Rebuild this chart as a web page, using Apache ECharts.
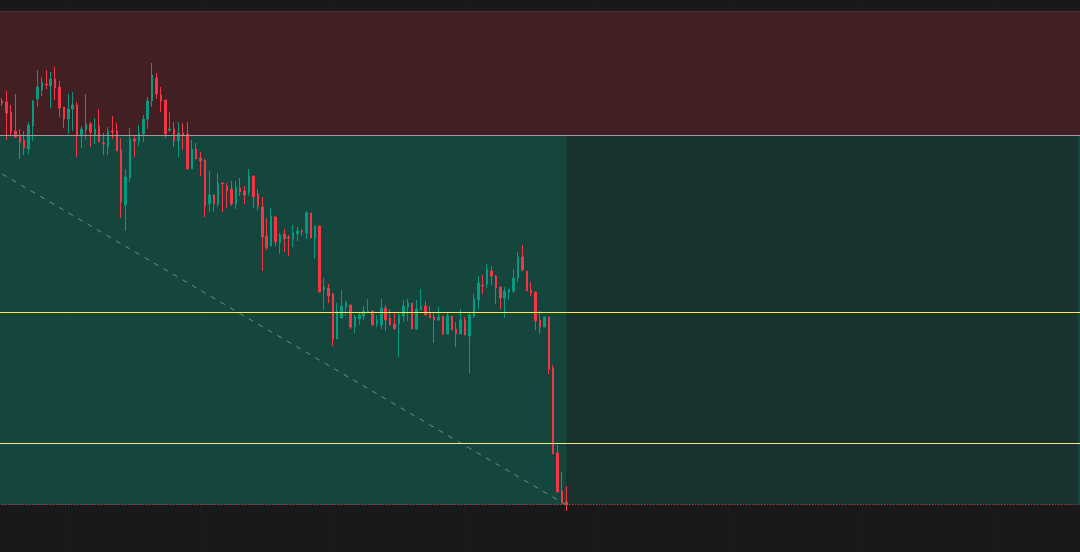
<!DOCTYPE html>
<html>
<head>
<meta charset="utf-8">
<script src="https://cdn.jsdelivr.net/npm/echarts@6/dist/echarts.min.js"></script>
<style>
html,body{margin:0;padding:0;background:#191919;}
#chart{width:1080px;height:552px;}
</style>
</head>
<body>
<div id="chart"></div>
<script>
// ---- data (price units) ----
const slotCount = 245; // visible bar slots incl. empty future area
const categories = [];
for (let i = 0; i < slotCount; i++) categories.push(String(i));

const openVals = [
451,450,440,421,417,412,403,426,453,462,
468,466,473,465,445,433,443,447,416,422,
428,417,426,409,405,421,421,402,347,374,
413,411,418,433,451,474,457,452,422,423,
411,419,418,383,403,394,392,348,357,348,
369,366,363,348,364,361,360,376,358,345,
316,306,335,309,318,315,313,318,321,319,
339,314,326,262,264,258,213,234,245,247,
225,233,236,240,241,228,227,244,234,228,
228,236,245,249,223,242,246,238,235,232,
236,218,236,223,218,232,216,236,252,267,
268,281,276,265,254,260,261,274,295,281,
262,260,232,225,235,184,99,61,50];
const closeVals = [
449,439,420,415,410,404,427,451,465,470,
467,473,464,444,433,443,447,417,423,428,
420,423,410,408,421,420,401,350,375,413,
411,419,433,451,477,458,451,418,423,411,
419,417,383,403,393,391,346,357,348,369,
368,361,348,365,360,357,376,355,346,315,
304,336,310,317,313,314,319,321,320,339,
314,326,260,265,256,213,241,246,250,225,
235,237,241,241,227,232,244,232,227,223,
236,246,249,223,243,246,237,234,232,235,
218,236,222,218,232,217,237,253,269,266,
283,276,264,254,261,263,274,295,282,261,
259,231,225,235,183,98,60,49,47];
const lowVals = [
446,412,417,414,393,397,398,411,445,456,
463,444,452,435,424,418,421,395,404,412,
405,408,410,397,397,413,401,334,321,370,
395,406,410,423,445,453,440,414,420,405,
395,402,383,383,393,376,335,340,340,345,
340,344,346,343,356,348,356,344,342,281,
302,306,306,298,300,296,305,311,316,313,
314,293,260,242,249,206,213,234,236,223,
219,227,232,239,226,225,223,221,227,223,
195,230,231,223,222,242,237,234,209,231,
217,218,222,205,218,217,179,234,243,258,
264,267,248,243,234,252,259,270,281,261,
256,222,218,225,178,98,60,49,41];
const highVals = [
454,461,447,458,423,421,430,452,482,475,
482,480,485,471,445,458,460,450,426,458,
430,434,443,419,425,436,429,414,383,424,
416,427,437,455,489,479,465,452,440,430,
430,429,430,412,409,400,393,381,358,379,
369,369,371,371,374,366,383,376,363,355,
334,344,335,319,323,317,327,325,323,341,
339,326,326,274,268,259,249,262,251,247,
237,240,246,253,241,237,253,247,243,240,
239,252,253,249,252,263,251,246,239,245,
236,240,236,230,243,235,239,258,276,277,
288,286,277,265,265,263,283,300,307,281,
270,260,241,235,235,187,107,80,66];

// position tool levels
const stopTop = 541;
const entryPrice = 417;
const targetPrice = 47;
const yellowLevel = 240;
const paleLevel = 109;
const lastPrice = 47.5;
// dashed path of the position tool: [barIndex, price]
const diagStart = [0, 378];
const diagEnd = [128, 47];
// vertical grid line bar indices
const gridBars = [15, 45, 75, 105, 135, 165, 195, 225];

// ---- build ----
const candleData = openVals.map((o, i) => [o, closeVals[i], lowVals[i], highVals[i]]);
const lastBar = openVals.length - 1;

const chart = echarts.init(document.getElementById('chart'), null, {renderer: 'canvas'});
chart.setOption({
  animation: false,
  backgroundColor: '#191919',
  grid: {left: -2.15, right: -3, top: 0, bottom: 0},
  xAxis: {
    type: 'category', data: categories, boundaryGap: true,
    axisLine: {show: false}, axisTick: {show: false}, axisLabel: {show: false},
    splitLine: {show: false}
  },
  yAxis: {
    type: 'value', min: 0, max: 552, scale: false,
    axisLine: {show: false}, axisTick: {show: false}, axisLabel: {show: false},
    splitLine: {show: false}
  },
  series: [
    {
      type: 'line', z: 1,
      data: [[String(diagStart[0]), diagStart[1]], [String(diagEnd[0]), diagEnd[1]]],
      symbol: 'none', silent: true,
      lineStyle: {color: 'rgba(150,160,156,0.75)', width: 1, type: [5, 6]},
      markArea: {
        silent: true,
        data: [
          [{yAxis: entryPrice, itemStyle: {color: '#421f23'}}, {yAxis: stopTop}],
          [{yAxis: targetPrice, itemStyle: {color: '#14463e'}}, {yAxis: entryPrice}],
          [{xAxis: String(lastBar), yAxis: targetPrice, itemStyle: {color: '#19322e'}}, {xAxis: categories[slotCount - 1], yAxis: entryPrice}]
        ]
      },
      markLine: {
        silent: true, symbol: ['none', 'none'], label: {show: false},
        data: gridBars.map(b => ({xAxis: String(b), lineStyle: {color: 'rgba(255,255,255,0.015)', width: 1, type: 'solid'}})).concat([
          {yAxis: stopTop, lineStyle: {color: '#5a282d', width: 1, type: 'solid'}},
          {yAxis: entryPrice, lineStyle: {color: '#9a9ca3', width: 1, type: 'solid'}},
          {yAxis: yellowLevel, lineStyle: {color: '#ffeb3b', width: 1, type: 'solid'}},
          {yAxis: paleLevel, lineStyle: {color: '#eee88a', width: 1, type: 'solid'}}
        ])
      }
    },
    {
      type: 'candlestick', z: 3,
      data: candleData,
      barWidth: 2,
      itemStyle: {
        color: '#089981', color0: '#f23645',
        borderColor: '#089981', borderColor0: '#f23645', borderWidth: 1
      }
    },
    {
      type: 'line', z: 4, silent: true, symbol: 'none',
      data: [[categories[0], lastPrice], [categories[slotCount - 1], lastPrice]],
      lineStyle: {color: '#f23645', width: 1, type: [1, 2]}
    }
  ]
});
</script>
</body>
</html>
